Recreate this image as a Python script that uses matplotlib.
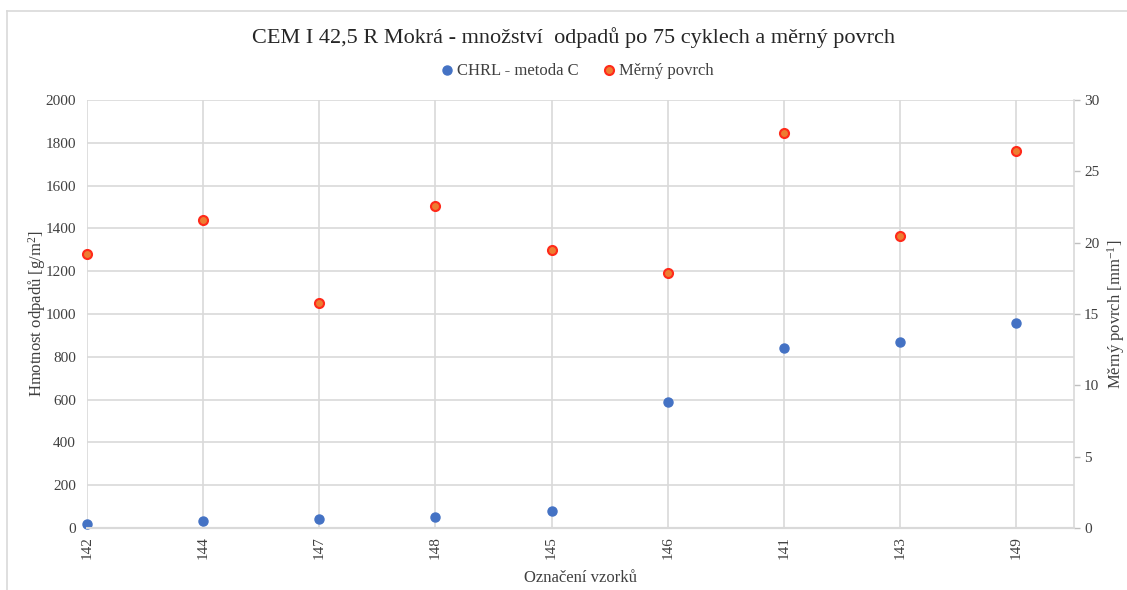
import matplotlib
matplotlib.use("Agg")
import matplotlib.pyplot as plt
from matplotlib.lines import Line2D

# Sample labels in the order they appear on the x axis
samples = ["142", "144", "147", "148", "145", "146", "141", "143", "149"]
# Scaling mass after 75 cycles [g/m2] (CHRL - method C)
scaling_mass = [17, 34, 43, 51, 79, 589, 840, 871, 957]
# Specific surface [mm^-1]
specific_surface = [19.2, 21.6, 15.8, 22.6, 19.5, 17.9, 27.7, 20.5, 26.4]

left_ticks = list(range(0, 2001, 200))
right_ticks = list(range(0, 31, 5))

plt.rcParams["font.family"] = ["Liberation Serif", "DejaVu Serif"]
plt.rcParams["mathtext.fontset"] = "custom"
plt.rcParams["mathtext.rm"] = "Liberation Serif"
plt.rcParams["mathtext.it"] = "Liberation Serif:italic"
plt.rcParams["mathtext.default"] = "rm"
text_col = "#404040"
grid_col = "#d9d9d9"
blue = "#4472C4"

fig = plt.figure(figsize=(11.27, 5.9), dpi=100)
ax = fig.add_axes([0.0772, 0.1051, 0.8760, 0.7254])
ax2 = ax.twinx()

x = list(range(len(samples)))

ax.plot(x, scaling_mass, linestyle="none", marker="o", markersize=6.5,
        markerfacecolor=blue, markeredgecolor=blue, zorder=3, clip_on=False)
ax2.plot(x, specific_surface, linestyle="none", marker="o", markersize=6.5,
         markerfacecolor="#ED7D31", markeredgecolor="#FF2A1A",
         markeredgewidth=1.5, zorder=3, clip_on=False)

ax.set_xlim(0, len(samples) - 0.5)
ax.set_ylim(0, 2000)
ax2.set_ylim(0, 30)

ax.set_xticks(x)
ax.set_xticklabels(samples, rotation=90, fontsize=11, color=text_col)
ax.set_yticks(left_ticks)
ax.set_yticklabels([str(v) for v in left_ticks], fontsize=11, color=text_col)
ax2.set_yticks(right_ticks)
ax2.set_yticklabels([str(v) for v in right_ticks], fontsize=11, color=text_col)

ax.grid(True, color=grid_col, linewidth=1.2)
ax.set_axisbelow(True)

for a in (ax, ax2):
    for side in ("top", "left", "right"):
        a.spines[side].set_visible(False)
    a.spines["bottom"].set_color(grid_col)
    a.spines["bottom"].set_linewidth(1.5)

ax2.spines["right"].set_visible(True)
ax2.spines["right"].set_color(grid_col)
ax2.spines["right"].set_linewidth(1.2)

ax.tick_params(axis="x", length=0, pad=6)
ax.tick_params(axis="y", length=0, pad=8)
ax2.tick_params(axis="y", length=4, color="#bfbfbf", width=1, pad=3)

ax.set_xlabel("Označení vzorků", fontsize=12, color=text_col, labelpad=8)
ax.set_ylabel("Hmotnost odpadů [g/m$^2$]", fontsize=12, color=text_col, labelpad=-2)
ax2.set_ylabel("Měrný povrch [mm$^{-1}$]", fontsize=12, color=text_col, labelpad=4)

fig.text(0.509, 0.937, "CEM I 42,5 R Mokrá - množství  odpadů po 75 cyklech a měrný povrch",
         ha="center", va="center", fontsize=16, color="#262626")

handles = [
    Line2D([], [], linestyle="none", marker="o", markersize=6.5,
           markerfacecolor=blue, markeredgecolor=blue),
    Line2D([], [], linestyle="none", marker="o", markersize=6.5,
           markerfacecolor="#ED7D31", markeredgecolor="#FF2A1A", markeredgewidth=1.5),
]
fig.legend(handles, ["CHRL - metoda C", "Měrný povrch"], loc="center",
           bbox_to_anchor=(0.511, 0.879), ncol=2, frameon=False, fontsize=12,
           handletextpad=0.1, columnspacing=1.3, handlelength=1.0,
           labelcolor=text_col)

# Outer chart frame (top and left edges)
fig.add_artist(Line2D([7 / 1127, 1], [1 - 11 / 590, 1 - 11 / 590],
                      transform=fig.transFigure, color="#d9d9d9", linewidth=1.2))
fig.add_artist(Line2D([7 / 1127, 7 / 1127], [0, 1 - 11 / 590],
                      transform=fig.transFigure, color="#d9d9d9", linewidth=1.2))

fig.savefig("out.png", dpi=100, facecolor="white")
